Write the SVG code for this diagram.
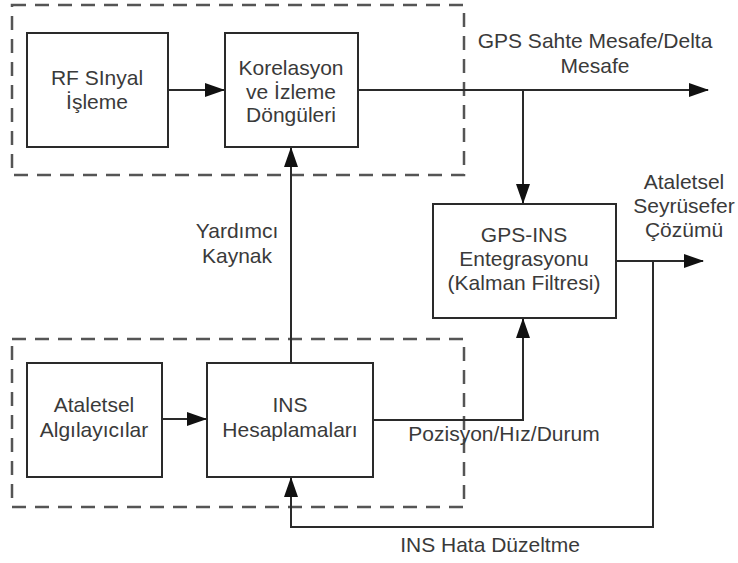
<svg xmlns="http://www.w3.org/2000/svg" width="738" height="563" viewBox="0 0 738 563">
  <style>
    .box { fill: #ffffff; stroke: #2a2a2a; stroke-width: 2; }
    .group { fill: none; stroke: #555555; stroke-width: 2.5; stroke-dasharray: 14 9; }
    .wire { fill: none; stroke: #2a2a2a; stroke-width: 2; }
    text { font-family: "Liberation Sans", Arial, sans-serif; font-size: 21px; fill: #3a3a3a; text-anchor: middle; }
  </style>
  <defs>
    <marker id="arrow" markerUnits="userSpaceOnUse" markerWidth="20" markerHeight="14" refX="19" refY="7" orient="auto">
      <path d="M0,0 L20,7 L0,14 Z" fill="#111111"/>
    </marker>
  </defs>
  <rect width="738" height="563" fill="#ffffff"/>

  <!-- dashed subsystem groupings -->
  <rect class="group" x="12" y="5" width="452" height="170"/>
  <rect class="group" x="12" y="339" width="452" height="168"/>

  <!-- connectors -->
  <g id="connectors">
    <path class="wire" d="M168,90 L224,90" marker-end="url(#arrow)"/>
    <path class="wire" d="M358,90 L708,90" marker-end="url(#arrow)"/>
    <path class="wire" d="M523,90 L523,203" marker-end="url(#arrow)"/>
    <path class="wire" d="M616,261 L703,261" marker-end="url(#arrow)"/>
    <path class="wire" d="M653,261 L653,527 L291,527 L291,478" marker-end="url(#arrow)"/>
    <path class="wire" d="M162,419 L206,419" marker-end="url(#arrow)"/>
    <path class="wire" d="M373,420 L523,420 L523,319" marker-end="url(#arrow)"/>
    <path class="wire" d="M291,363 L291,148" marker-end="url(#arrow)"/>
  </g>

  <g id="rf">
    <rect class="box" x="27" y="33" width="141" height="114"/>
    <text x="97" y="85">RF SInyal</text>
    <text x="97" y="109">İşleme</text>
  </g>

  <g id="korelasyon">
    <rect class="box" x="225" y="33" width="133" height="114"/>
    <text x="291" y="75">Korelasyon</text>
    <text x="291" y="99">ve İzleme</text>
    <text x="291" y="122">Döngüleri</text>
  </g>

  <g id="gps-ins">
    <rect class="box" x="433" y="204" width="183" height="114"/>
    <text x="524" y="242">GPS-INS</text>
    <text x="524" y="266">Entegrasyonu</text>
    <text x="524" y="290">(Kalman Filtresi)</text>
  </g>

  <g id="ataletsel">
    <rect class="box" x="27" y="363" width="135" height="114"/>
    <text x="94" y="412">Ataletsel</text>
    <text x="94" y="437">Algılayıcılar</text>
  </g>

  <g id="ins">
    <rect class="box" x="207" y="363" width="166" height="114"/>
    <text x="290" y="412">INS</text>
    <text x="290" y="437">Hesaplamaları</text>
  </g>

  <!-- connector labels -->
  <g id="labels">
    <text x="595" y="48">GPS Sahte Mesafe/Delta</text>
    <text x="595" y="73">Mesafe</text>
    <text x="684" y="189">Ataletsel</text>
    <text x="684" y="213">Seyrüsefer</text>
    <text x="684" y="237">Çözümü</text>
    <text x="237" y="238">Yardımcı</text>
    <text x="237" y="263">Kaynak</text>
    <text x="504" y="441">Pozisyon/Hız/Durum</text>
    <text x="490" y="552">INS Hata Düzeltme</text>
  </g>
</svg>
